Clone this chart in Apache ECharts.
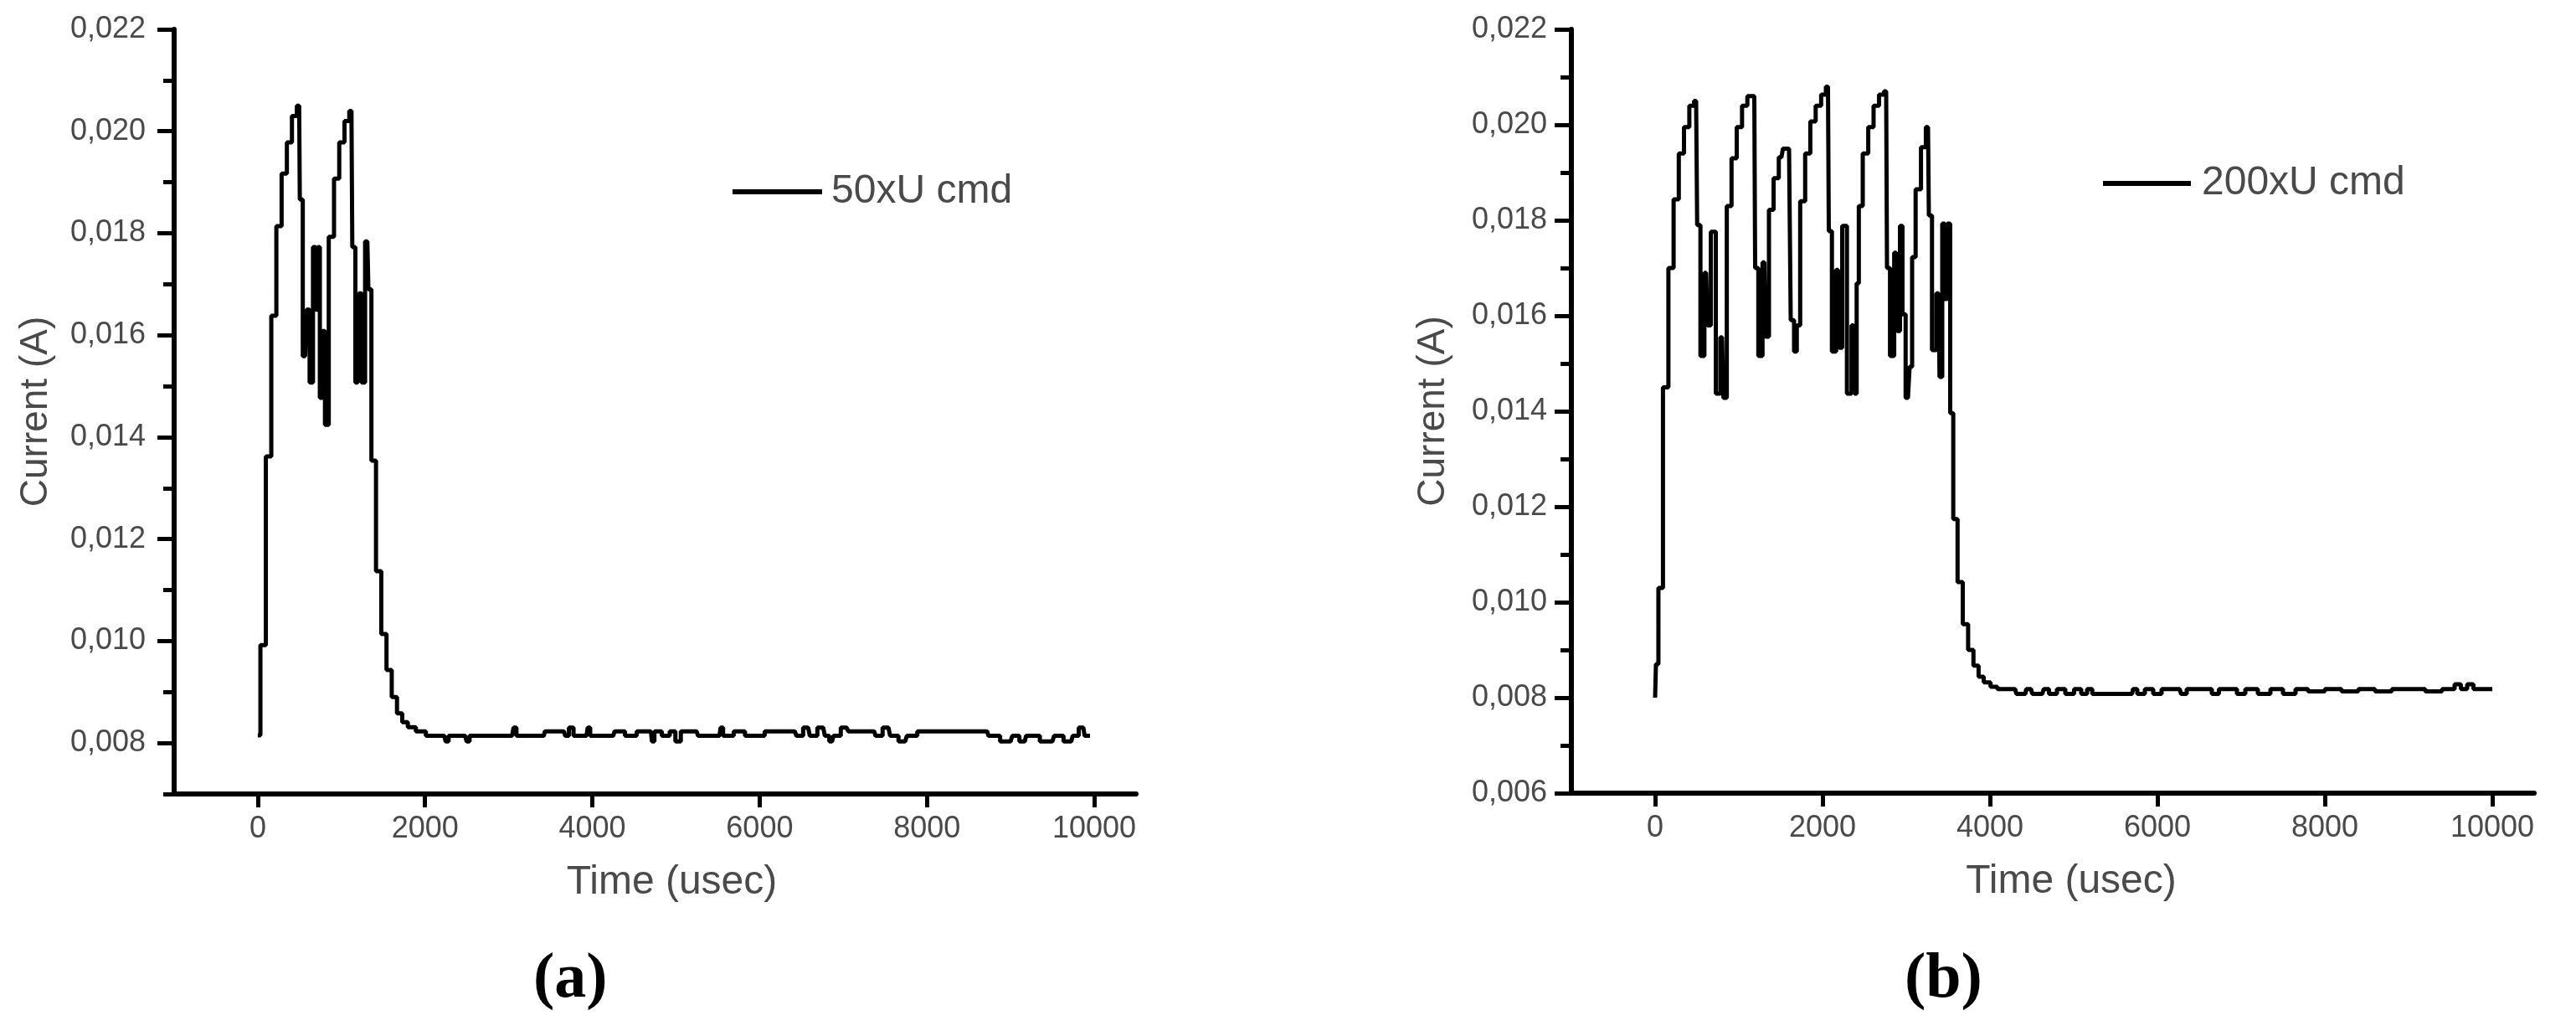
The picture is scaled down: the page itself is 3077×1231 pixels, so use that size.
<!DOCTYPE html>
<html>
<head>
<meta charset="utf-8">
<script src="https://cdn.jsdelivr.net/npm/echarts@6/dist/echarts.min.js"></script>
<style>
html,body{margin:0;padding:0;background:#ffffff;}
#chart{width:3077px;height:1231px;}
</style>
</head>
<body>
<div id="chart"></div>
<script>
// ---------- data ----------
const seriesNameA = '50xU cmd';
const seriesNameB = '200xU cmd';
const panelLabels = ['(a)', '(b)'];
const xTitle = 'Time (usec)';
const yTitle = 'Current (A)';

const xTickValues = [0, 2000, 4000, 6000, 8000, 10000];
const yMajorA = [0.008, 0.010, 0.012, 0.014, 0.016, 0.018, 0.020, 0.022];
const yMinorA = [0.007, 0.009, 0.011, 0.013, 0.015, 0.017, 0.019, 0.021];
const yMajorB = [0.006, 0.008, 0.010, 0.012, 0.014, 0.016, 0.018, 0.020, 0.022];
const yMinorB = [0.007, 0.009, 0.011, 0.013, 0.015, 0.017, 0.019, 0.021];

const timeA = [
  0, 63, 130, 193, 251, 319, 377, 440, 495, 510,
  566, 600, 640, 680, 705, 730, 754, 790, 817, 880,
  943, 1005, 1068, 1120, 1140, 1194, 1225, 1256, 1310, 1335,
  1382, 1445, 1508, 1570, 1633, 1696, 1758, 1830, 1950, 2070,
  2230, 2263, 2300, 2480, 2514, 2550, 3040, 3075, 3110, 3420,
  3445, 3660, 3690, 3750, 3800, 3930, 3958, 3990, 4250, 4281,
  4500, 4560, 4700, 4724, 4760, 4900, 4950, 5035, 5080, 5246,
  5280, 5520, 5546, 5580, 5800, 5850, 6000, 6120, 6420, 6460,
  6580, 6620, 6760, 6800, 6865, 6900, 7040, 7080, 7370, 7400,
  7540, 7580, 7740, 7780, 7990, 8720, 8750, 9000, 9040, 9170,
  9200, 9500, 9540, 9725, 9760, 9870, 9900, 9950
];
const currentA = [
  0.00815, 0.00992, 0.01362, 0.01638, 0.01814, 0.01917, 0.01978, 0.0203, 0.0205, 0.01866,
  0.01559, 0.0165, 0.01507, 0.01773, 0.0165, 0.01773, 0.01477, 0.01608, 0.01424, 0.01793,
  0.01907, 0.01978, 0.0202, 0.0204, 0.01773, 0.01507, 0.01682, 0.01507, 0.01784, 0.0169,
  0.01354, 0.01137, 0.01014, 0.00943, 0.0089, 0.00858, 0.00841, 0.00831, 0.00823, 0.00814,
  0.00814, 0.00803, 0.00814, 0.00814, 0.00803, 0.00814, 0.00814, 0.0083, 0.00814, 0.00814,
  0.00823, 0.00823, 0.00814, 0.0083, 0.00814, 0.00814, 0.0083, 0.00814, 0.00814, 0.00823,
  0.00814, 0.00823, 0.00823, 0.00803, 0.00823, 0.00814, 0.00823, 0.00803, 0.00823, 0.00823,
  0.00814, 0.00814, 0.0083, 0.00814, 0.00823, 0.00814, 0.00814, 0.00823, 0.00823, 0.00814,
  0.0083, 0.00814, 0.0083, 0.00814, 0.00803, 0.00814, 0.0083, 0.00823, 0.00823, 0.00814,
  0.0083, 0.00814, 0.00803, 0.00814, 0.00823, 0.00823, 0.00814, 0.00803, 0.00814, 0.00803,
  0.00814, 0.00803, 0.00814, 0.00803, 0.00814, 0.0083, 0.00814, 0.00814
];

const timeB = [
  0, 20, 59, 129, 189, 253, 313, 377, 441, 490,
  515, 568, 610, 640, 692, 759, 800, 830, 883, 943,
  1007, 1070, 1134, 1185, 1205, 1261, 1305, 1335, 1385, 1446,
  1509, 1545, 1600, 1640, 1680, 1705, 1761, 1824, 1884, 1952,
  2015, 2065, 2085, 2139, 2185, 2210, 2260, 2323, 2370, 2395,
  2420, 2447, 2514, 2578, 2641, 2709, 2760, 2780, 2832, 2880,
  2905, 2945, 2965, 3020, 3060, 3080, 3144, 3208, 3260, 3280,
  3335, 3385, 3410, 3450, 3470, 3510, 3540, 3583, 3643, 3707,
  3771, 3834, 3894, 3958, 4055, 4122, 4300, 4330, 4424, 4440,
  4490, 4520, 4625, 4660, 4750, 4850, 4950, 5060, 5120, 5200,
  5244, 5697, 5720, 5800, 5900, 6000, 6100, 6266, 6300, 6400,
  6600, 6700, 6769, 6900, 7000, 7100, 7300, 7400, 7600, 7700,
  7900, 8100, 8300, 8500, 8700, 8900, 9100, 9300, 9500, 9600,
  9650, 9750, 9800, 10000
];
const currentB = [
  0.0080, 0.0087, 0.0103, 0.0145, 0.0170, 0.01844, 0.0194, 0.01995, 0.0204, 0.0205,
  0.0179, 0.01516, 0.0169, 0.0158, 0.01776, 0.01437, 0.01555, 0.01428, 0.0183, 0.0193,
  0.01995, 0.0204, 0.0206, 0.0206, 0.0170, 0.01516, 0.01712, 0.01556, 0.01822, 0.01888,
  0.01932, 0.0195, 0.0195, 0.01591, 0.01525, 0.0158, 0.0184, 0.0194, 0.02007, 0.0204,
  0.02063, 0.0208, 0.01777, 0.01525, 0.01696, 0.01533, 0.01788, 0.01437, 0.0158, 0.01437,
  0.01668, 0.0183, 0.0194, 0.01995, 0.0204, 0.02063, 0.0207, 0.0170, 0.01516, 0.01732,
  0.01568, 0.01788, 0.01603, 0.01428, 0.01493, 0.01723, 0.01865, 0.01953, 0.01995, 0.0181,
  0.01528, 0.01647, 0.01472, 0.01793, 0.01635, 0.01793, 0.01396, 0.01174, 0.01042, 0.00954,
  0.009, 0.00867, 0.00844, 0.00832, 0.00823, 0.00818, 0.00818, 0.00808, 0.00808, 0.00818,
  0.00818, 0.00808, 0.00808, 0.00818, 0.00808, 0.00818, 0.00808, 0.00818, 0.00808, 0.00818,
  0.00808, 0.00808, 0.00818, 0.00808, 0.00818, 0.00808, 0.00818, 0.00818, 0.00808, 0.00818,
  0.00818, 0.00808, 0.00818, 0.00818, 0.00808, 0.00818, 0.00808, 0.00818, 0.00808, 0.00818,
  0.00813, 0.00818, 0.00813, 0.00818, 0.00813, 0.00818, 0.00818, 0.00813, 0.00818, 0.00828,
  0.00818, 0.00828, 0.00818, 0.00818
];

// ---------- build chart ----------
const pairs = (xs, ys) => xs.map((x, i) => [x, ys[i]]);
const LABEL_FONT = 'Liberation Sans, Arial, sans-serif';
const TEXT_COLOR = '#4a4a4a';
const fmtY = v => v.toFixed(3).replace('.', ',');

function xAxisFor(gridIndex, padLeft) {
  return {
    type: 'value', gridIndex: gridIndex, min: -1000, max: 10500,
    name: xTitle, nameLocation: 'middle', nameGap: 82,
    nameTextStyle: { fontFamily: LABEL_FONT, fontSize: 48, color: TEXT_COLOR, padding: [0, 0, 0, padLeft] },
    axisLine: { show: true, onZero: false, lineStyle: { color: '#000', width: 6 } },
    axisTick: { show: true, inside: false, length: 16, lineStyle: { color: '#000', width: 5 }, customValues: xTickValues },
    axisLabel: { show: true, margin: 24, fontFamily: LABEL_FONT, fontSize: 36, color: TEXT_COLOR,
      customValues: xTickValues, formatter: v => String(v) },
    splitLine: { show: false }, minorTick: { show: false }
  };
}
function yMajorAxis(gridIndex, min, majors, margin) {
  return {
    type: 'value', gridIndex: gridIndex, min: min, max: 0.022, position: 'left',
    name: yTitle, nameLocation: 'middle', nameGap: 142, nameRotate: 90,
    nameTextStyle: { fontFamily: LABEL_FONT, fontSize: 46, color: TEXT_COLOR },
    axisLine: { show: true, onZero: false, lineStyle: { color: '#000', width: 6 } },
    axisTick: { show: true, inside: false, length: 20, lineStyle: { color: '#000', width: 5 }, customValues: majors },
    axisLabel: { show: true, margin: margin, fontFamily: LABEL_FONT, fontSize: 36, color: TEXT_COLOR,
      customValues: majors, formatter: fmtY },
    splitLine: { show: false }
  };
}
function yMinorAxis(gridIndex, min, minors) {
  return {
    type: 'value', gridIndex: gridIndex, min: min, max: 0.022, position: 'left',
    axisLine: { show: false, onZero: false },
    axisTick: { show: true, inside: false, length: 13, lineStyle: { color: '#000', width: 5 }, customValues: minors },
    axisLabel: { show: false, customValues: minors },
    splitLine: { show: false }
  };
}

const chart = echarts.init(document.getElementById('chart'), null, { renderer: 'canvas' });
chart.setOption({
  backgroundColor: '#ffffff',
  animation: false,
  grid: [
    { left: 208, top: 35, width: 1149, height: 913 },
    { left: 1877, top: 35, width: 1150, height: 912 }
  ],
  xAxis: [ xAxisFor(0, 40), xAxisFor(1, 44) ],
  yAxis: [
    yMajorAxis(0, 0.007, yMajorA, 34),
    yMinorAxis(0, 0.007, yMinorA),
    yMajorAxis(1, 0.006, yMajorB, 29),
    yMinorAxis(1, 0.006, yMinorB)
  ],
  legend: [
    { data: [seriesNameA], left: 875, top: 203, padding: 0, icon: 'rect', itemWidth: 107, itemHeight: 6,
      textStyle: { fontFamily: LABEL_FONT, fontSize: 48, color: TEXT_COLOR, lineHeight: 52, padding: [0, 0, 0, 6] } },
    { data: [seriesNameB], left: 2512, top: 189, padding: 0, icon: 'rect', itemWidth: 105, itemHeight: 6,
      textStyle: { fontFamily: LABEL_FONT, fontSize: 48, color: TEXT_COLOR, lineHeight: 52, padding: [0, 0, 8, 8] } }
  ],
  series: [
    { name: seriesNameA, type: 'line', xAxisIndex: 0, yAxisIndex: 0, data: pairs(timeA, currentA),
      step: 'middle', showSymbol: false, symbol: 'none', color: '#000',
      lineStyle: { color: '#000', width: 5 } },
    { name: seriesNameB, type: 'line', xAxisIndex: 1, yAxisIndex: 2, data: pairs(timeB, currentB),
      step: 'middle', showSymbol: false, symbol: 'none', color: '#000',
      lineStyle: { color: '#000', width: 5 } }
  ],
  graphic: [
    { type: 'text', left: 637, top: 1132, style: { text: panelLabels[0], fontFamily: 'Liberation Serif, Times New Roman, serif', fontWeight: 'bold', fontSize: 76, fill: '#000' } },
    { type: 'text', left: 2275, top: 1132, style: { text: panelLabels[1], fontFamily: 'Liberation Serif, Times New Roman, serif', fontWeight: 'bold', fontSize: 76, fill: '#000' } }
  ]
});
</script>
</body>
</html>
